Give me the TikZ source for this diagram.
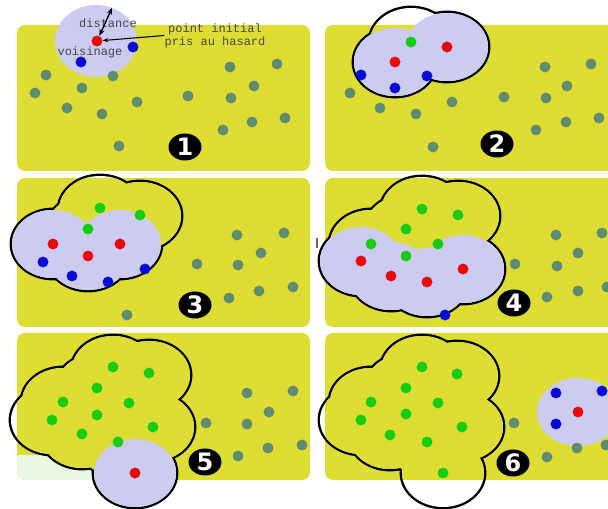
\documentclass[tikz,border=0pt]{standalone}
\usepackage{fontspec}
\newfontfamily\monofont{Liberation Mono}
\newfontfamily\badgefont{DejaVu Sans}
\usetikzlibrary{shapes.geometric,arrows.meta}
\definecolor{panelyellow}{RGB}{221,221,52}
\definecolor{lav}{RGB}{204,204,240}
\definecolor{graydot}{RGB}{96,140,112}
\definecolor{greendot}{RGB}{20,205,20}
\definecolor{reddot}{RGB}{232,10,10}
\definecolor{bluedot}{RGB}{10,10,215}
\definecolor{palegreen}{RGB}{234,247,226}
\def\rx{30.75pt}
\def\ry{25.5pt}
\newcommand\blob[2]{%
  \foreach \x/\y in {#2} \draw[outl] (\x,\y) ellipse[x radius=\rx, y radius=\ry];
  \foreach \x/\y in {#2} \fill[white] (\x,\y) ellipse[x radius=\rx, y radius=\ry];
  \begin{scope}
    \clip[rounded corners=6pt] #1;
    \foreach \x/\y in {#2} \fill[panelyellow] (\x,\y) ellipse[x radius=\rx, y radius=\ry];
  \end{scope}}
\newcommand\lavfill[1]{%
  \foreach \x/\y in {#1} \fill[lav] (\x,\y) ellipse[x radius=\rx, y radius=\ry];}
\newcommand\dotset[2]{%
  \foreach \x/\y in {#2} \fill[#1] (\x,\y) circle[radius=4.1pt];}
\begin{document}
\begin{tikzpicture}[x=0.75pt,y=-0.75pt,
  panel/.style={fill=panelyellow, rounded corners=6pt},
  outl/.style={draw=black, line width=3.6pt},
  badge/.style={ellipse, fill=black, text=white, inner sep=0pt,
    minimum width=24.75pt, minimum height=20.25pt,
    font=\badgefont\bfseries\fontsize{18}{18}\selectfont},
  lbl/.style={inner sep=0pt, text=black!72,
    font=\monofont\fontsize{9}{9.75}\selectfont}]
\useasboundingbox (0,0) rectangle (608,509);
\clip (0,0) rectangle (608,509);
\fill[white] (0,0) rectangle (608,509);
% panels
\path[panel] (17,25) rectangle (310,171);
\path[panel] (325,25) rectangle (640,171);
\path[panel] (17,178) rectangle (310,327);
\path[panel] (325,178) rectangle (640,327);
\path[panel] (17,333) rectangle (310,480);
\path[panel] (325,333) rectangle (640,480);
\begin{scope}
  \clip[rounded corners=6pt] (17,333) rectangle (310,480);
  \fill[palegreen] (17,455) rectangle (100,480);
\end{scope}
\draw[black!60, line width=0.8pt] (317,238) -- (317,248);
% panel 1
\fill[lav] (96,41) ellipse[x radius=\rx, y radius=27pt];
\dotset{graydot}{46/75,35/93,82/88,113/76,67/108,102/114,137/102,119/146,188/96,230/67,277/64,254/86,231/98,252/122,285/118,223/130}
\dotset{bluedot}{133/47,81/62}
\node[circle, fill=reddot, inner sep=0pt, minimum size=8.2pt] (init) at (97,41) {};
\coordinate (dtop) at (112,8);
\node[lbl] (dist) at (108,23) {distance};
\node[lbl] (vois) at (90,52) {voisinage};
\node[lbl, align=center] (pinit) at (215,35.5) {point initial\\pris au hasard};
\draw[line width=1pt, {Stealth[length=5pt,width=4pt]}-{Stealth[length=5pt,width=4pt]}] (init) -- (dtop);
\draw[line width=0.8pt, -{Stealth[length=4pt,width=3pt]}] (pinit.west) -- (init);
\node[badge] (b1) at (185,147) {1};
% panel 2
\blob{(325,25) rectangle (640,171)}{411/42,395/62,447/47}
\lavfill{395/62,447/47}
\dotset{graydot}{350/93,380/108,416/114,452/102,433/147,504/97,545/67,591/64,567/86,546/98,536/130,566/122,599/118}
\dotset{greendot}{411/42}
\dotset{reddot}{395/62,447/47}
\dotset{bluedot}{361/75,395/88,427/76}
\node[badge] (b2) at (497,144) {2};
% panel 3
\blob{(17,178) rectangle (310,327)}{100/210,140/216,88/229,53/244,120/244,88/256}
\lavfill{53/244,120/244,88/256}
\dotset{graydot}{237/235,284/233,261/253,197/264,238/265,229/298,259/291,293/287,127/315}
\dotset{greendot}{100/208,140/215,88/229}
\dotset{reddot}{53/244,120/244,88/256}
\dotset{bluedot}{43/262,72/276,108/282,145/269}
\node[badge] (b3) at (195,305) {3};
% panel 4
\blob{(325,178) rectangle (640,327)}{422/211,458/216,406/229,371/244,438/244,406/256,361/261,391/276,427/282,463/269}
\lavfill{361/261,391/276,427/282,463/269}
\dotset{graydot}{515/264,556/235,602/233,578/253,557/266,547/297,578/291,607/287}
\dotset{greendot}{422/209,458/215,406/229,371/244,438/244,406/256}
\dotset{reddot}{361/261,391/276,427/282,463/269}
\dotset{bluedot}{445/315}
\node[badge] (b4) at (514,303) {4};
% panel 5
\blob{(17,333) rectangle (310,480)}{113/370,149/375,97/388,63/402,129/403,52/420,97/415,153/427,82/434,118/442,135/473}
\lavfill{135/473}
\dotset{graydot}{206/423,247/393,293/391,269/412,247/424,238/456,268/448,302/445}
\dotset{greendot}{113/367,149/373,97/388,63/402,129/403,52/420,97/415,153/427,82/434,118/442}
\dotset{reddot}{135/473}
\node[badge] (b5) at (205,462) {5};
% panel 6
\blob{(325,333) rectangle (640,480)}{422/370,457/376,406/388,371/402,438/403,361/420,406/414,462/427,390/435,427/442,443/473}
\lavfill{578/412}
\dotset{graydot}{514/423,547/457,577/448,606/445}
\dotset{greendot}{422/367,457/374,406/388,371/402,438/403,361/420,406/414,462/427,390/435,427/442,443/473}
\dotset{reddot}{578/412}
\dotset{bluedot}{556/393,602/391,556/424}
\node[badge] (b6) at (513,463) {6};
\end{tikzpicture}
\end{document}
